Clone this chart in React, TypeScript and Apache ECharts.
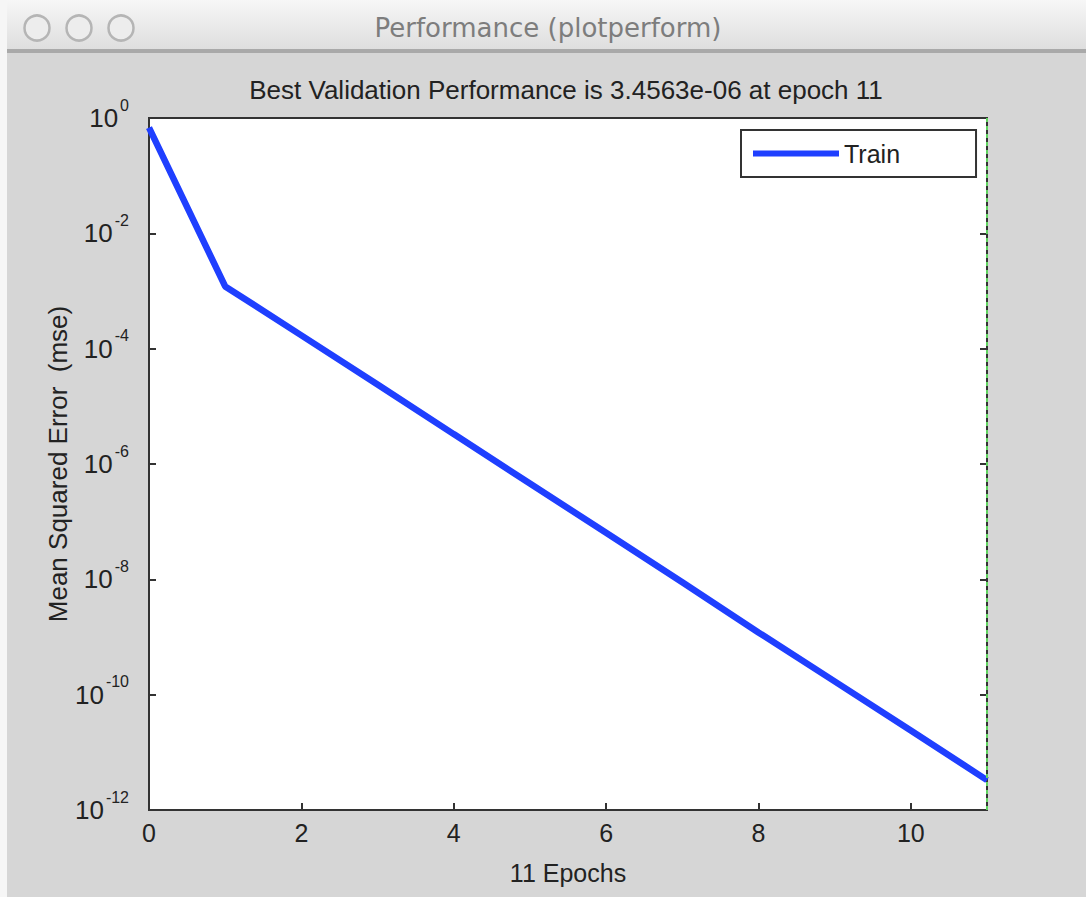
import React, { useEffect, useRef } from "react";
import * as echarts from "echarts";

const epochs: number[] = [0, 1, 2, 3, 4, 5, 6, 7, 8, 9, 10, 11];
const trainMSE: number[] = [
  0.68, 1.2e-3, 1.7e-4, 2.4e-5, 3.3e-6, 4.6e-7, 6.4e-8, 8.9e-9, 1.2e-9, 1.7e-10, 2.4e-11, 3.3e-12,
];
const seriesName = "Train";
const windowTitle = "Performance (plotperform)";
const chartTitle = "Best Validation Performance is 3.4563e-06 at epoch 11";
const xAxisName = "11 Epochs";
const yAxisName = "Mean Squared Error  (mse)";
const bestEpoch = 11;

const FONT = "'Liberation Sans', Arial, sans-serif";

export default function App() {
  const ref = useRef<HTMLDivElement>(null);
  useEffect(() => {
    if (!ref.current) return;
    const chart = echarts.init(ref.current, undefined, { renderer: "svg" });
    const option: any = {
      animation: false,
      backgroundColor: "#d6d6d6",
      textStyle: { fontFamily: FONT },
      title: {
        text: chartTitle,
        left: 561,
        top: 72,
        textAlign: "center",
        textStyle: { fontFamily: FONT, fontSize: 26, fontWeight: "normal", color: "#222" },
      },
      graphic: [
        {
          type: "rect",
          shape: { x: 0, y: 0, width: 1086, height: 50 },
          style: {
            fill: new echarts.graphic.LinearGradient(0, 0, 0, 1, [
              { offset: 0, color: "#f7f7f7" },
              { offset: 1, color: "#dedede" },
            ]),
          },
          silent: true,
        },
        {
          type: "rect",
          shape: { x: 0, y: 49, width: 1086, height: 4 },
          style: { fill: "#a9a9a9" },
          silent: true,
        },
        {
          type: "rect",
          shape: { x: 0, y: 0, width: 7, height: 897 },
          style: { fill: "#f6f6f6" },
          silent: true,
        },
        ...[37, 79, 121].map((cx) => ({
          type: "circle",
          shape: { cx, cy: 28, r: 12.5 },
          style: { fill: "#ededed", stroke: "#b5b5b5", lineWidth: 2.5 },
          silent: true,
        })),
        {
          type: "text",
          x: 548,
          y: 28,
          style: {
            text: windowTitle,
            fontFamily: "'DejaVu Sans', sans-serif",
            fontSize: 26,
            fill: "#7d7d7d",
            align: "center",
            verticalAlign: "middle",
          },
          silent: true,
        },
      ],
      legend: {
        data: [seriesName],
        left: 741,
        top: 130,
        padding: [11, 76, 11, 12],
        backgroundColor: "#ffffff",
        borderColor: "#333",
        borderWidth: 2,
        borderRadius: 0,
        icon: "rect",
        itemWidth: 86,
        itemHeight: 6,
        itemGap: 5,
        textStyle: { fontFamily: FONT, fontSize: 25, color: "#222" },
      },
      grid: {
        left: 149,
        top: 118,
        width: 838,
        height: 692,
        show: true,
        backgroundColor: "#ffffff",
        borderColor: "#333",
        borderWidth: 2,
        containLabel: false,
      },
      xAxis: {
        type: "value",
        min: 0,
        max: 11,
        interval: 2,
        name: xAxisName,
        nameLocation: "middle",
        nameGap: 50,
        nameMoveOverlap: false,
        nameTextStyle: { fontFamily: FONT, fontSize: 25, color: "#222" },
        axisLine: { show: true, lineStyle: { color: "#333", width: 2 } },
        axisTick: { show: true, inside: true, length: 7, lineStyle: { color: "#333", width: 2 } },
        axisLabel: { fontFamily: FONT, fontSize: 25, color: "#222", margin: 10, showMaxLabel: false },
        splitLine: { show: false },
      },
      yAxis: [
        {
          type: "log",
          logBase: 10,
          min: 1e-12,
          max: 1,
          interval: 2,
          name: yAxisName,
          nameLocation: "middle",
          nameRotate: 90,
          nameGap: 78,
          nameMoveOverlap: false,
          nameTextStyle: { fontFamily: FONT, fontSize: 26, color: "#222" },
          axisLine: { show: true, lineStyle: { color: "#333", width: 2 } },
          axisTick: { show: true, inside: true, length: 7, lineStyle: { color: "#333", width: 2 } },
          axisLabel: {
            margin: 20,
            formatter: (v: number) => `{a|10}{b|${Math.round(Math.log10(v))}}`,
            rich: {
              a: { fontFamily: FONT, fontSize: 26, color: "#222", lineHeight: 42 },
              b: { fontFamily: FONT, fontSize: 16, color: "#222", lineHeight: 16, verticalAlign: "top", padding: [0, 0, 0, 2] },
            },
          },
          splitLine: { show: false },
        },
        {
          type: "log",
          logBase: 10,
          min: 1e-12,
          max: 1,
          interval: 2,
          position: "right",
          axisLine: { show: false },
          axisTick: { show: true, inside: true, length: 7, lineStyle: { color: "#333", width: 2 } },
          axisLabel: { show: false },
          splitLine: { show: false },
        },
      ],
      series: [
        {
          name: seriesName,
          type: "line",
          data: epochs.map((e, i) => [e, trainMSE[i]]),
          symbol: "none",
          lineStyle: { color: "#1f3fff", width: 6.5 },
          itemStyle: { color: "#1f3fff" },
          markLine: {
            silent: true,
            symbol: "none",
            label: { show: false },
            lineStyle: { color: "#5fd35f", type: [4, 4], width: 2 },
            data: [{ xAxis: bestEpoch }],
          },
        },
      ],
    };
    chart.setOption(option);
    return () => chart.dispose();
  }, []);
  return (
    <div
      ref={ref}
      style={{ position: "fixed", left: 0, top: 0, width: 1086, height: 897 }}
    />
  );
}
